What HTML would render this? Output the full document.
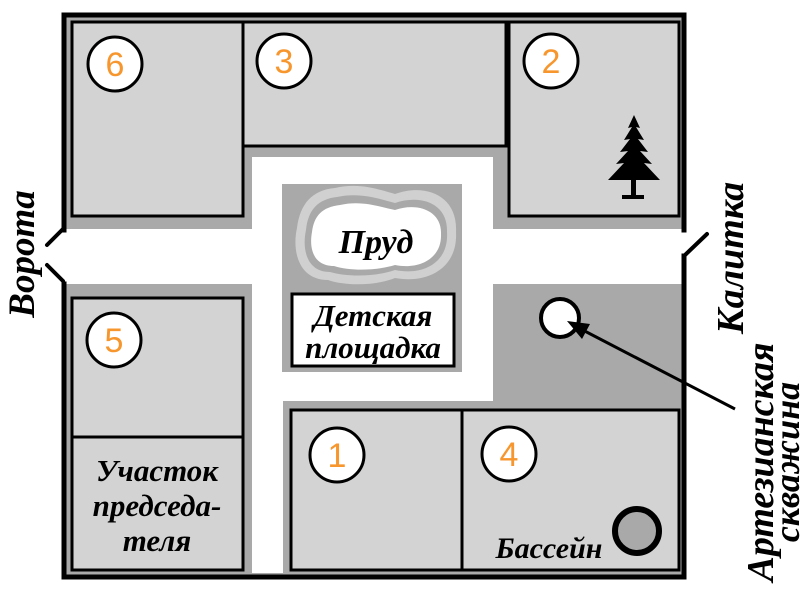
<!DOCTYPE html>
<html><head><meta charset="utf-8"><style>
html,body{margin:0;padding:0;background:#fff;width:807px;height:594px;overflow:hidden}
svg{display:block}
.s{font-family:"Liberation Serif",serif;font-style:italic;font-weight:bold;fill:#000}
.n{font-family:"Liberation Sans",sans-serif;fill:#f7962d;font-size:34px}
</style></head><body>
<svg width="807" height="594" viewBox="0 0 807 594" xmlns="http://www.w3.org/2000/svg">
<rect x="64" y="15" width="620" height="562" fill="#a9a9a9"/>
<rect x="252" y="157" width="241" height="244" fill="#fff"/>
<rect x="40" y="229" width="660" height="55" fill="#fff"/>
<rect x="252" y="157" width="31" height="416" fill="#fff"/>
<rect x="493" y="284" width="191" height="126" fill="#a9a9a9"/>
<rect x="282" y="184" width="180" height="188" fill="#a9a9a9"/>
<!-- pond -->
<path d="M335 188 C360 182 380 190 395 194 C425 183 458 195 456 232 C458 268 428 284 395 278 C375 286 345 286 328 280 C298 280 292 250 297 228 C300 204 312 190 335 188Z" fill="#d0d0d0"/>
<path d="M337 197 C360 192 380 199 395 203 C422 194 448 204 447 232 C449 262 424 276 395 270 C375 277 347 277 330 272 C306 272 302 248 306 230 C308 210 318 199 337 197Z" fill="#a9a9a9"/>
<path d="M340 205 C362 200 380 207 395 210 C418 202 442 211 441 234 C442 258 420 270 395 265 C375 271 350 271 334 266 C313 266 309 248 312 232 C314 216 322 207 340 205Z" fill="#fff"/>
<text class="s" x="376" y="253" font-size="34" text-anchor="middle">Пруд</text>
<rect x="292" y="294" width="162" height="72" fill="#fff" stroke="#000" stroke-width="3"/>
<text class="s" x="373" y="326" font-size="31" text-anchor="middle">Детская</text>
<text class="s" x="373" y="358" font-size="31" text-anchor="middle">площадка</text>
<g fill="#d3d3d3" stroke="#000" stroke-width="3">
<rect x="72" y="22" width="171" height="194"/>
<rect x="243" y="22" width="263" height="124"/>
<rect x="509" y="22" width="170" height="194"/>
<rect x="72" y="298" width="171" height="139"/>
<rect x="72" y="437" width="171" height="133"/>
<rect x="291" y="410" width="171" height="160"/>
<rect x="462" y="410" width="217" height="160"/>
</g>
<g fill="none" stroke="#000" stroke-width="5" stroke-linecap="square">
<polyline points="64,230 64,15 684,15 684,230"/>
<polyline points="64,284 64,577 684,577 684,256"/>
</g>
<g stroke="#000" stroke-width="4" stroke-linecap="round" fill="none">
<line x1="63" y1="229" x2="47" y2="245"/>
<line x1="47" y1="265" x2="63" y2="281"/>
<line x1="684" y1="256" x2="707" y2="234"/>
</g>
<g fill="#fff" stroke="#000" stroke-width="3">
<circle cx="115" cy="64" r="27"/>
<circle cx="284" cy="61" r="27"/>
<circle cx="551" cy="61" r="27"/>
<circle cx="114" cy="340" r="27"/>
<circle cx="337" cy="455" r="27"/>
<circle cx="509" cy="454" r="27"/>
</g>
<text class="n" x="115" y="76" text-anchor="middle">6</text>
<text class="n" x="284" y="73" text-anchor="middle">3</text>
<text class="n" x="551" y="73" text-anchor="middle">2</text>
<text class="n" x="114" y="352" text-anchor="middle">5</text>
<text class="n" x="337" y="467" text-anchor="middle">1</text>
<text class="n" x="509" y="466" text-anchor="middle">4</text>
<g fill="#000">
<rect x="631" y="180" width="5" height="18"/>
<path d="M634 115 L640 128 L636 127 L644 140 L638 139 L648 152 L640 151 L652 164 L644 163 L660 180 L608 180 L624 163 L616 164 L628 151 L620 152 L630 139 L624 140 L632 127 L628 128 Z"/>
<rect x="622" y="195" width="22" height="4"/>
</g>
<circle cx="560" cy="318" r="19" fill="#fff" stroke="#000" stroke-width="4"/>
<line x1="735" y1="409" x2="575" y2="326" stroke="#000" stroke-width="3"/>
<path d="M567 321 L590 324 L582 339 Z" fill="#000"/>
<circle cx="637" cy="531" r="22" fill="#a9a9a9" stroke="#000" stroke-width="6"/>
<text class="s" x="549" y="558" font-size="30" text-anchor="middle">Бассейн</text>
<text class="s" x="157" y="481" font-size="31" text-anchor="middle">Участок</text>
<text class="s" x="157" y="516" font-size="31" text-anchor="middle">председа-</text>
<text class="s" x="157" y="551" font-size="31" text-anchor="middle">теля</text>
<text class="s" font-size="37" text-anchor="middle" transform="translate(34,254) rotate(-90)">Ворота</text>
<text class="s" font-size="38" text-anchor="middle" transform="translate(743,258) rotate(-90)">Калитка</text>
<text class="s" font-size="38" text-anchor="middle" transform="translate(773,462) rotate(-90)">Артезианская</text>
<text class="s" font-size="36" text-anchor="middle" transform="translate(799,462) rotate(-90)">скважина</text>
</svg>
</body></html>
